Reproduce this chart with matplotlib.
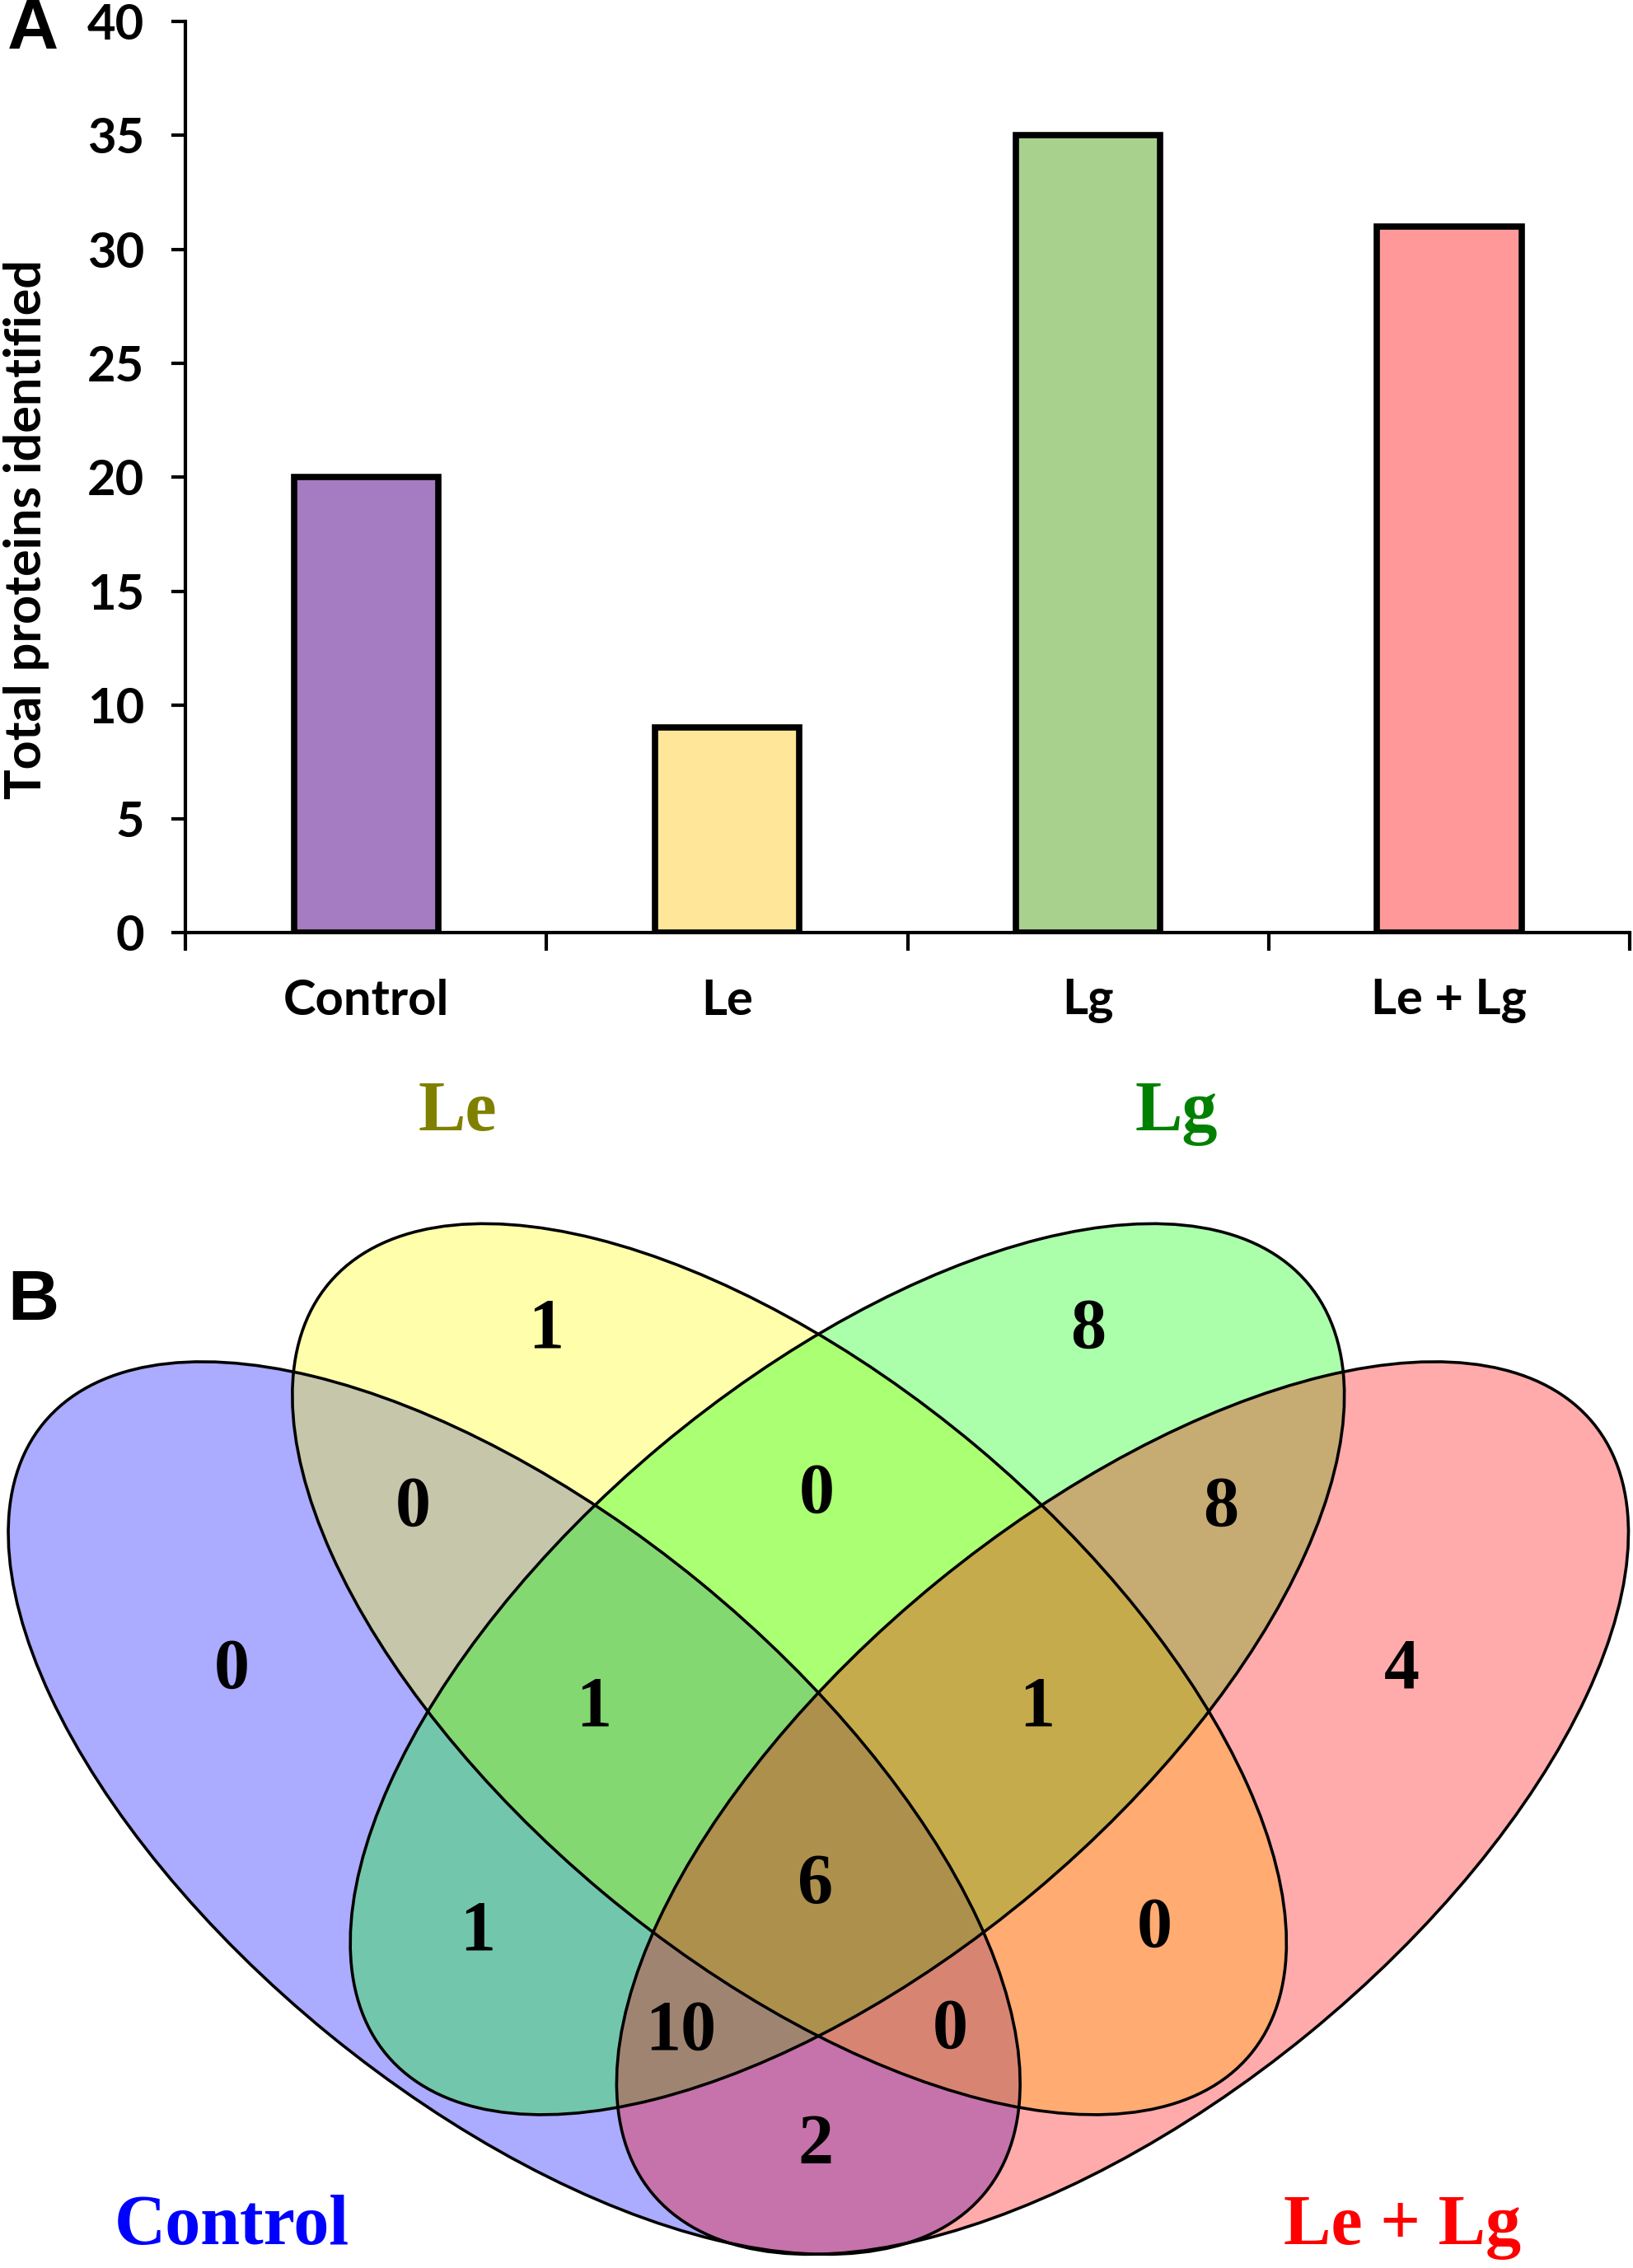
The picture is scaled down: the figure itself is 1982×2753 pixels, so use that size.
import numpy as np
import matplotlib.pyplot as plt
from matplotlib.patches import Ellipse

# panel A data
groups = ['Control', 'Le', 'Lg', 'Le + Lg']
totals = [20, 9, 35, 31]
bar_colors = ['#A57CC1', '#FFE699', '#A9D18E', '#FF9999']

# panel B data, region key = membership in (Control, Le, Lg, Le + Lg)
regions = ['0100', '0010', '1000', '0001', '1100', '0110', '0011',
           '1110', '0111', '1010', '1111', '0101', '1011', '1101', '1001']
counts = [1, 8, 0, 4, 0, 0, 8, 1, 1, 1, 6, 0, 10, 0, 2]

# venn layout, in page pixels of a 1128 x 1568 page (y down)
ell_geom = [((355, 1250), 420, 202, 39.3),
            ((545, 1154), 415, 201, 40.0),
            ((585, 1154), 415, 201, -40.0),
            ((775, 1250), 420, 202, -39.3)]
ell_fill = ['#0000FF', '#FFFF00', '#00FF00', '#FF0000']
cat_col = ['#0000FF', '#808000', '#008000', '#FF0000']
cat_pos = [(160, 1540), (316, 770), (812, 770), (968, 1540)]
label_pos = {'0100': (377, 920), '0010': (751, 920),
             '1000': (160, 1155), '0001': (968, 1155),
             '1100': (285, 1043), '0110': (564, 1034),
             '0011': (843, 1043), '1110': (410, 1181),
             '0111': (716, 1181), '1010': (330, 1336),
             '1111': (563, 1304), '0101': (797, 1334),
             '1011': (470, 1405), '1101': (656, 1404),
             '1001': (563, 1484)}

fig = plt.figure(figsize=(19.83, 27.53), dpi=100)

# ---- A: bar chart
ax = fig.add_axes([0.1135, 0.5887, 0.884, 0.4018])
x = np.arange(len(groups)) + 0.5
ax.bar(x, totals, width=0.4, color=bar_colors, edgecolor='black', linewidth=5.5)
ax.set_xlim(0, 4)
ax.set_ylim(0, 40)
ax.set_yticks(range(0, 41, 5))
ax.set_xticks(range(0, 5))
ax.set_xticklabels([])
ax.set_xticks(x, minor=True)
ax.set_xticklabels(groups, minor=True)
for s in ['top', 'right']:
    ax.spines[s].set_visible(False)
for s in ['left', 'bottom']:
    ax.spines[s].set_linewidth(3)
ax.tick_params(axis='y', direction='out', length=12, width=3, pad=24)
ax.tick_params(axis='x', which='major', direction='out', length=16, width=3)
ax.tick_params(axis='x', which='minor', length=0, pad=40)
for lab in ax.get_yticklabels() + ax.get_xticklabels(minor=True):
    lab.set_fontfamily('Lato')
    lab.set_fontweight('bold')
    lab.set_fontsize(43)
fig.text(18 / 1128, 1 - 366 / 1568, 'Total proteins identified', rotation=90,
         ha='center', va='center', family='Lato', weight='bold', fontsize=44)
fig.text(5 / 1128, 1 - 21 / 1568, 'A', ha='left', va='center',
         family='Liberation Sans', weight='bold', fontsize=62)
fig.text(5 / 1128, 1 - 900 / 1568, 'B', ha='left', va='center',
         family='Liberation Sans', weight='bold', fontsize=62)

# ---- B: venn
top = 740
vx = fig.add_axes([0, 0, 1, (1568 - top) / 1568])
vx.set_xlim(0, 1128)
vx.set_ylim(1568, top)
vx.axis('off')
for (c, a, b, ang), col in zip(ell_geom, ell_fill):
    vx.add_patch(Ellipse(c, 2 * a, 2 * b, angle=ang, facecolor=col,
                         alpha=0.33, edgecolor='none'))
for (c, a, b, ang) in ell_geom:
    vx.add_patch(Ellipse(c, 2 * a, 2 * b, angle=ang, facecolor='none',
                         edgecolor='black', linewidth=2.6))
for r, n in zip(regions, counts):
    px, py = label_pos[r]
    vx.text(px, py, str(n), ha='center', va='center', family='Liberation Serif',
            weight='bold', fontsize=62)
for g, (px, py), col in zip(groups, cat_pos, cat_col):
    vx.text(px, py, g, ha='center', va='center', family='Liberation Serif',
            weight='bold', fontsize=62, color=col)

fig.savefig('out.png', dpi=100)
